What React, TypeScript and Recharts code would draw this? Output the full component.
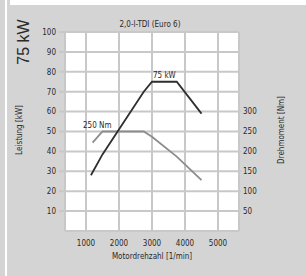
import { LineChart, Line, XAxis, YAxis, CartesianGrid, ReferenceDot } from 'recharts'

// engine speed [1/min] and values
const powerRpm = [1150, 1500, 2750, 3000, 3750, 4500]
const powerKw = [28, 38.5, 70, 75, 75, 59]
const torqueRpm = [1200, 1500, 2750, 3000, 3750, 4500]
const torqueNm = [222, 250, 250, 237, 187, 128]

const rpmTicks = [1000, 2000, 3000, 4000, 5000]
const kwTicks = [10, 20, 30, 40, 50, 60, 70, 80, 90, 100]
const nmTicks = [50, 100, 150, 200, 250, 300]

const powerPeakLabel = { rpm: 3375, value: 75, text: '75 kW' }
const torquePeakLabel = { rpm: 1340, value: 250, text: '250 Nm' }

const powerData = powerRpm.map((rpm, i) => ({ rpm, kw: powerKw[i] }))
const torqueData = torqueRpm.map((rpm, i) => ({ rpm, nm: torqueNm[i] }))

const FONT = "'Liberation Sans Narrow', 'DejaVu Sans Condensed', 'Liberation Sans', sans-serif"
const INK = '#2a2a2a'
const GRID = '#c8c8c8'
const tickStyle = { fontSize: 8, fill: INK, fontFamily: FONT }

export default function App() {
  return (
    <div
      style={{
        position: 'absolute',
        left: 0,
        top: 0,
        width: 306,
        height: 276,
        background: '#d4d4d4',
        fontFamily: FONT,
        color: INK,
        overflow: 'hidden',
      }}
    >
      <div style={{ position: 'absolute', left: 10, top: 0, width: 296, height: 5, background: '#fff' }} />
      <div style={{ position: 'absolute', left: 5, top: 0, width: 2, height: 276, background: '#fff' }} />

      <div style={{ position: 'absolute', left: 0, top: 0 }}>
        <LineChart width={306} height={276} margin={{ top: 32, right: 40, bottom: 20, left: 35 }}>
          <CartesianGrid fill="#fff" stroke={GRID} strokeWidth={2} />
          <XAxis
            dataKey="rpm"
            type="number"
            domain={[364, 5636]}
            ticks={rpmTicks}
            interval={0}
            axisLine={false}
            tickLine={false}
            tickMargin={3}
            height={25}
            tick={tickStyle}
          />
          <YAxis
            domain={[0, 100]}
            ticks={kwTicks}
            interval={0}
            axisLine={false}
            tickLine={{ stroke: GRID, strokeWidth: 2 }}
            tickSize={6}
            tickMargin={3}
            width={30}
            tick={tickStyle}
          />
          <YAxis
            yAxisId="nm"
            orientation="right"
            domain={[0, 500]}
            ticks={nmTicks}
            interval={0}
            axisLine={false}
            tickLine={{ stroke: GRID, strokeWidth: 2 }}
            tickSize={2}
            tickMargin={2}
            width={27}
            tick={{ ...tickStyle, textAnchor: 'start' }}
          />
          <Line
            yAxisId="nm"
            data={torqueData}
            dataKey="nm"
            stroke="#8c8c8c"
            strokeWidth={1.8}
            dot={false}
            type="linear"
            isAnimationActive={false}
          />
          <Line
            data={powerData}
            dataKey="kw"
            stroke="#2e2e2e"
            strokeWidth={1.8}
            dot={false}
            type="linear"
            isAnimationActive={false}
          />
          <ReferenceDot
            x={powerPeakLabel.rpm}
            y={powerPeakLabel.value}
            r={0}
            stroke="none"
            label={{ value: powerPeakLabel.text, position: 'top', offset: 4, fontSize: 8, fill: INK, fontFamily: FONT }}
          />
          <ReferenceDot
            yAxisId="nm"
            x={torquePeakLabel.rpm}
            y={torquePeakLabel.value}
            r={0}
            stroke="none"
            label={{ value: torquePeakLabel.text, position: 'top', offset: 4, fontSize: 8, fill: INK, fontFamily: FONT }}
          />
        </LineChart>
      </div>

      <div style={{ position: 'absolute', left: 0, width: 300, top: 20, textAlign: 'center', fontSize: 8 }}>
        2,0-l-TDI (Euro 6)
      </div>
      <div
        style={{
          position: 'absolute',
          left: 24,
          top: 42,
          transform: 'translate(-50%, -50%) rotate(-90deg)',
          whiteSpace: 'nowrap',
          fontSize: 16,
          fontFamily: "'Liberation Sans', sans-serif",
        }}
      >
        75 kW
      </div>
      <div
        style={{
          position: 'absolute',
          left: 19,
          top: 130,
          transform: 'translate(-50%, -50%) rotate(-90deg)',
          whiteSpace: 'nowrap',
          fontSize: 8,
        }}
      >
        Leistung [kW]
      </div>
      <div
        style={{
          position: 'absolute',
          left: 281,
          top: 130,
          transform: 'translate(-50%, -50%) rotate(-90deg)',
          whiteSpace: 'nowrap',
          fontSize: 8,
        }}
      >
        Drehmoment [Nm]
      </div>
      <div style={{ position: 'absolute', left: 0, width: 304, top: 252, textAlign: 'center', fontSize: 8 }}>
        Motordrehzahl [1/min]
      </div>
    </div>
  )
}
